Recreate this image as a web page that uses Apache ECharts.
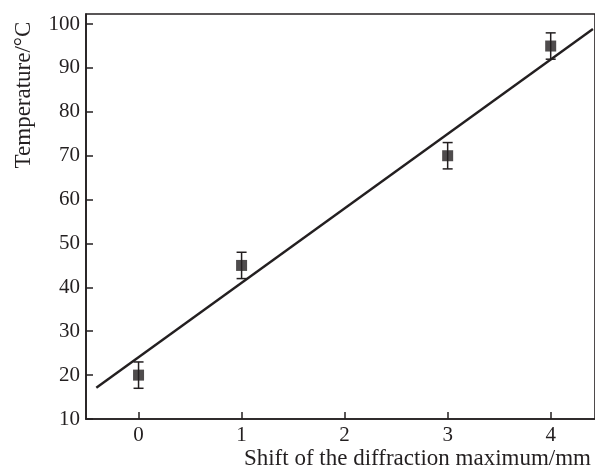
<!DOCTYPE html>
<html>
<head>
<meta charset="utf-8">
<script src="https://cdn.jsdelivr.net/npm/echarts@6/dist/echarts.min.js"></script>
<style>html,body{margin:0;padding:0;background:#fff}#c{width:595px;height:470px}</style>
</head>
<body>
<div id="c"></div>
<script>
var shiftValues = [0, 1, 3, 4];
var tempValues = [20, 45, 70, 95];
var errValues = [3, 3, 3, 3];
var fitX = [-0.41, 4.41];
var fitY = [17.1, 98.9];
var xTicks = [0, 1, 2, 3, 4];
var yTicks = [10, 20, 30, 40, 50, 60, 70, 80, 90, 100];
var xTitle = 'Shift of the diffraction maximum/mm';
var yTitle = 'Temperature/\u00B0C';

var FONT = '"Liberation Serif", "DejaVu Serif", serif';
var INK = '#231f20';

var points = shiftValues.map(function (x, i) { return [x, tempValues[i]]; });
var errData = shiftValues.map(function (x, i) { return [x, tempValues[i] - errValues[i], tempValues[i] + errValues[i]]; });
var fitData = fitX.map(function (x, i) { return [x, fitY[i]]; });

var chart = echarts.init(document.getElementById('c'), null, {renderer: 'canvas'});
chart.setOption({
  animation: false,
  backgroundColor: '#fff',
  grid: {left: 86, right: -1, top: 14, bottom: 51, show: true, borderColor: INK, borderWidth: 1.6, backgroundColor: 'transparent'},
  xAxis: {
    type: 'value', min: -0.51, max: 4.43,
    axisLine: {show: true, onZero: false, lineStyle: {color: INK, width: 1.6}},
    axisTick: {show: true, inside: true, length: 7, lineStyle: {color: INK, width: 1.5}, customValues: xTicks},
    axisLabel: {color: INK, fontFamily: FONT, fontSize: 21, margin: 6, customValues: xTicks},
    splitLine: {show: false}
  },
  yAxis: {
    type: 'value', min: 10, max: 102.3,
    axisLine: {show: true, onZero: false, lineStyle: {color: INK, width: 1.6}},
    axisTick: {show: true, inside: true, length: 7, lineStyle: {color: INK, width: 1.5}, customValues: yTicks},
    axisLabel: {color: INK, fontFamily: FONT, fontSize: 21, margin: 6, customValues: yTicks},
    splitLine: {show: false}
  },
  series: [
    {
      type: 'line', data: fitData, showSymbol: false, symbol: 'none',
      lineStyle: {color: INK, width: 2.4}, z: 2
    },
    {
      type: 'custom', data: errData, z: 3,
      renderItem: function (params, api) {
        var x = api.value(0);
        var lo = api.coord([x, api.value(1)]);
        var hi = api.coord([x, api.value(2)]);
        var hw = 5;
        var st = {stroke: INK, lineWidth: 1.5, fill: null};
        return {type: 'group', children: [
          {type: 'line', shape: {x1: lo[0], y1: lo[1], x2: hi[0], y2: hi[1]}, style: st},
          {type: 'line', shape: {x1: lo[0] - hw, y1: lo[1], x2: lo[0] + hw, y2: lo[1]}, style: st},
          {type: 'line', shape: {x1: hi[0] - hw, y1: hi[1], x2: hi[0] + hw, y2: hi[1]}, style: st}
        ]};
      }
    },
    {
      type: 'scatter', data: points, symbol: 'rect', symbolSize: 11,
      itemStyle: {color: INK}, z: 4
    }
  ],
  graphic: [
    {type: 'text', x: 24, y: 95, rotation: Math.PI / 2,
     style: {text: yTitle, fontFamily: FONT, fontSize: 23, fill: INK, textAlign: 'center', textVerticalAlign: 'middle'}},
    {type: 'text', x: 591, y: 459,
     style: {text: xTitle, fontFamily: FONT, fontSize: 23, fill: INK, textAlign: 'right', textVerticalAlign: 'middle'}}
  ]
});
</script>
</body>
</html>
